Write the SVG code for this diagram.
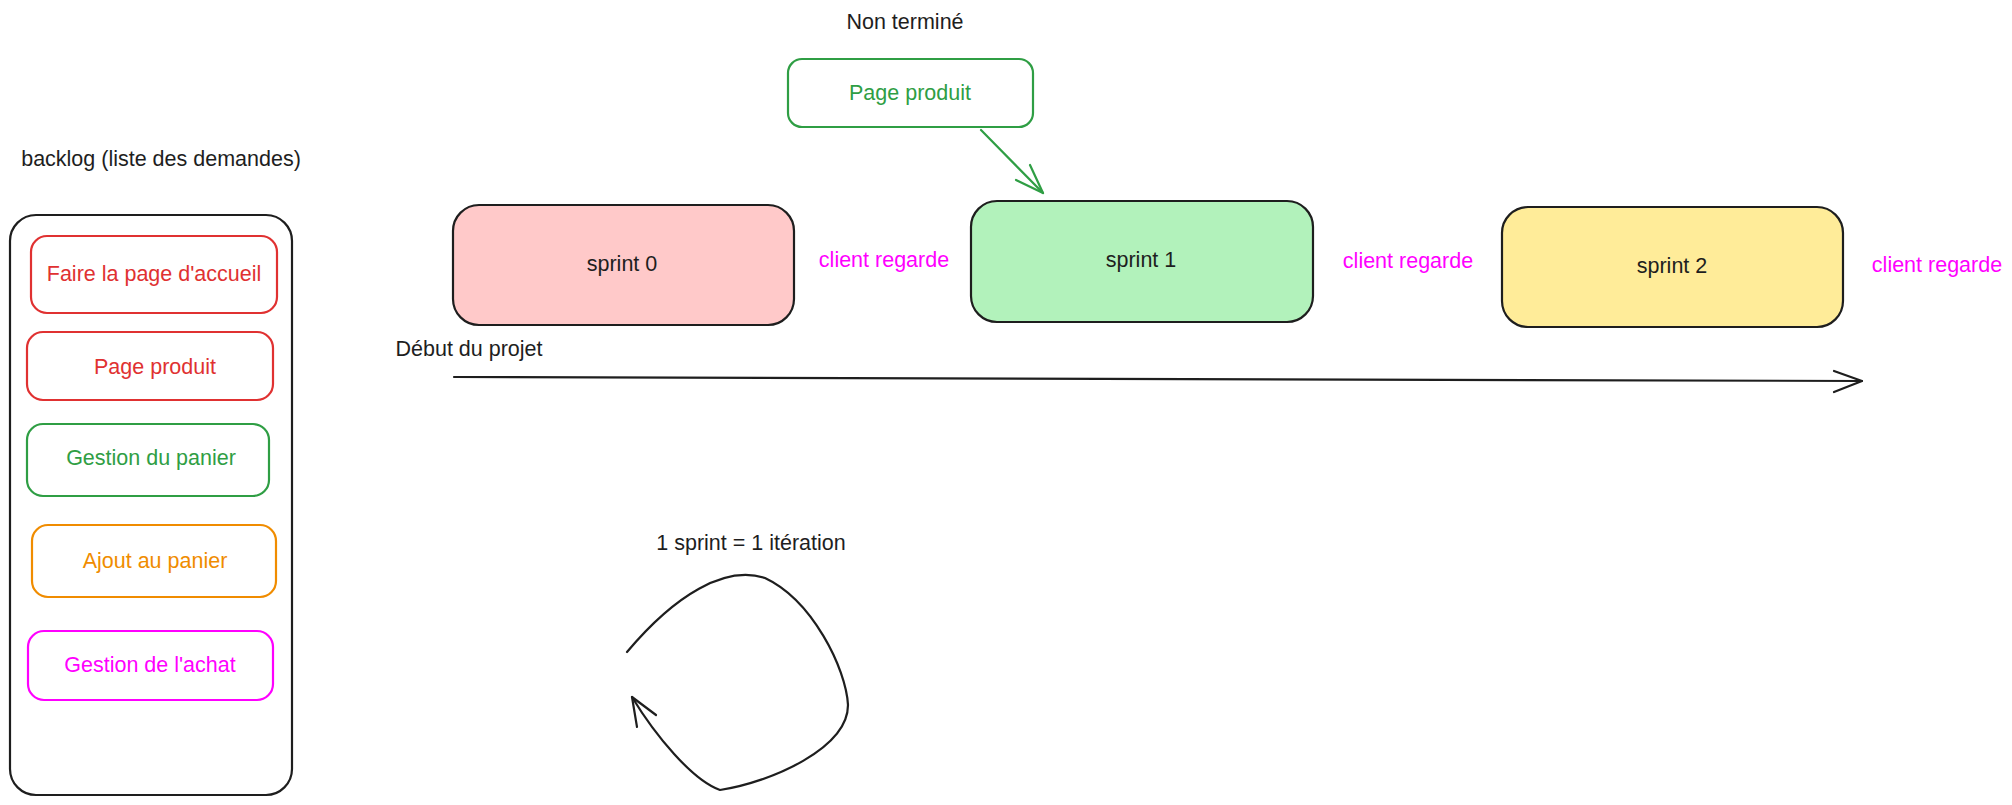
<svg xmlns="http://www.w3.org/2000/svg" width="2012" height="805" viewBox="0 0 2012 805">
<style>
text{font-family:"Liberation Sans","DejaVu Sans",sans-serif;font-size:21.5px;text-anchor:middle;dominant-baseline:central}
.box{stroke-width:2.2;fill:#fff}
.blk{stroke:#1e1e1e}
.red{stroke:#e03131}.tred{fill:#e03131}
.grn{stroke:#2f9e44}.tgrn{fill:#2f9e44}
.org{stroke:#f08c00}.torg{fill:#f08c00}
.mag{stroke:#ff00ff}.tmag{fill:#ff00ff}
.tblk{fill:#1e1e1e}
.ln{fill:none;stroke-width:2.2;stroke-linecap:round;stroke-linejoin:round}
</style>
<rect width="2012" height="805" fill="#ffffff"/>
<g id="label-non-termine"><text class="tblk" x="905" y="22">Non terminé</text></g>
<g id="node-page-produit-top"><rect class="box grn" x="788" y="59" width="245" height="68" rx="14"/><text class="tgrn" x="910" y="93">Page produit</text></g>
<g id="label-backlog"><text class="tblk" x="161" y="159">backlog (liste des demandes)</text></g>
<g id="node-backlog"><rect class="box blk" x="10" y="215" width="282" height="580" rx="26"/></g>
<g id="node-accueil"><rect class="box red" x="31" y="236" width="246" height="77" rx="16"/><text class="tred" x="154" y="274">Faire la page d'accueil</text></g>
<g id="node-page-produit"><rect class="box red" x="27" y="332" width="246" height="68" rx="16"/><text class="tred" x="155" y="367">Page produit</text></g>
<g id="node-gestion-panier"><rect class="box grn" x="27" y="424" width="242" height="72" rx="16"/><text class="tgrn" x="151" y="458">Gestion du panier</text></g>
<g id="node-ajout-panier"><rect class="box org" x="32" y="525" width="244" height="72" rx="16"/><text class="torg" x="155" y="561">Ajout au panier</text></g>
<g id="node-gestion-achat"><rect class="box mag" x="28" y="631" width="245" height="69" rx="16"/><text class="tmag" x="150" y="665">Gestion de l'achat</text></g>
<g id="node-sprint0"><rect class="blk" stroke-width="2.2" fill="#ffc9c9" x="453" y="205" width="341" height="120" rx="26"/><text class="tblk" x="622" y="264">sprint 0</text></g>
<g id="node-sprint1"><rect class="blk" stroke-width="2.2" fill="#b2f2bb" x="971" y="201" width="342" height="121" rx="26"/><text class="tblk" x="1141" y="260">sprint 1</text></g>
<g id="node-sprint2"><rect class="blk" stroke-width="2.2" fill="#ffec99" x="1502" y="207" width="341" height="120" rx="26"/><text class="tblk" x="1672" y="266">sprint 2</text></g>
<g id="labels-client"><text class="tmag" x="884" y="260">client regarde</text><text class="tmag" x="1408" y="261">client regarde</text><text class="tmag" x="1937" y="265">client regarde</text></g>
<g id="label-debut"><text class="tblk" x="469" y="349">Début du projet</text></g>
<g id="label-iteration"><text class="tblk" x="751" y="543">1 sprint = 1 itération</text></g>
<g id="connectors">
<path class="ln blk" d="M454,377 L1862,381"/>
<path class="ln blk" d="M1834,371 L1862,381 L1834,392"/>
<path class="ln grn" d="M981,130 L1043,193"/>
<path class="ln grn" d="M1016,180 L1043,193 L1030,165"/>
<path class="ln blk" d="M627,652 C675,595 725,565 765,578 C812,600 846,668 848,705 C848,748 772,782 720,790 C692,780 655,735 632,697"/>
<path class="ln blk" d="M637,727 L632,697 L656,715"/>
</g>
</svg>
